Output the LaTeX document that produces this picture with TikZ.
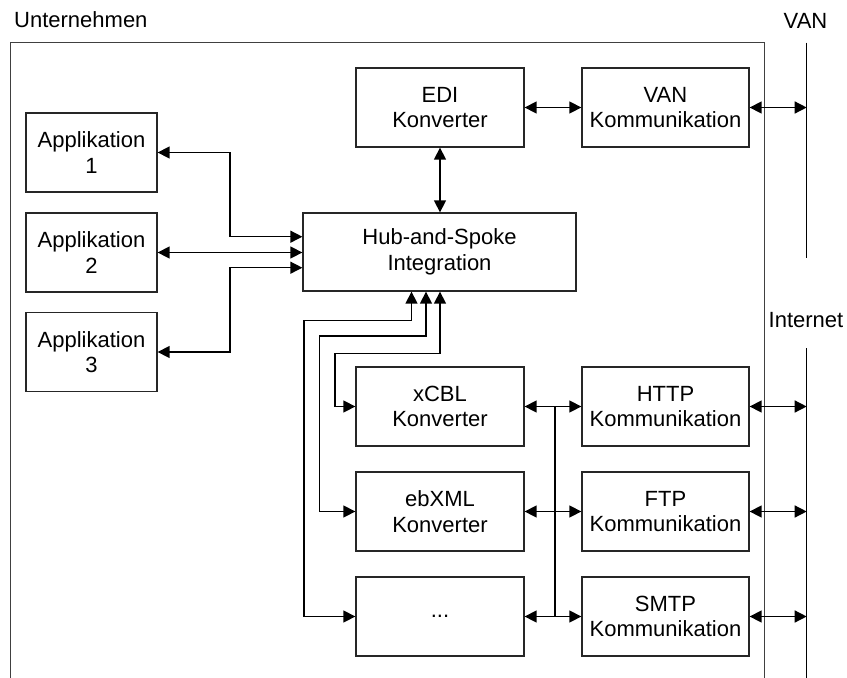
\documentclass[tikz,border=0pt]{standalone}
\usepackage{fontspec}
\setmainfont{Liberation Sans}
\usetikzlibrary{arrows.meta,calc}
\begin{document}
\begin{tikzpicture}[x=1pt,y=-1pt,
  every node/.style={font=\fontsize{22}{25.5}\selectfont},
  box/.style={draw=black!85,line width=1.3pt,minimum width=168pt,minimum height=79pt,align=center,inner sep=0pt},
  appbox/.style={box,minimum width=131pt},
  conn/.style={line width=1.4pt,draw=black,{Triangle[length=12pt,width=12pt]}-{Triangle[length=12pt,width=12pt]}},
  plain/.style={line width=1.4pt,draw=black},
  frame/.style={line width=1.1pt,draw=black!75}]
\useasboundingbox (0,0) rectangle (847,678);
% labels
\node[anchor=west,inner sep=0pt] (lu) at (14,20) {Unternehmen};
\node[inner sep=0pt] (lvan) at (805.5,21) {VAN};
\node[inner sep=0pt] (linet) at (806,320) {Internet};
% enclosure and network lines
\draw[frame] (10.5,678) -- (10.5,42.7) -- (764.5,42.7) -- (764.5,678);
\coordinate (vtop) at (806.7,42.7);
\coordinate (vbot) at (806.7,258);
\coordinate (itop) at (806.7,348);
\coordinate (ibot) at (806.7,678);
\draw[plain] (vtop) -- (vbot);
\draw[plain] (itop) -- (ibot);
% boxes
\node[appbox] (a1) at (91.5,152.5) {Applikation\\1};
\node[appbox] (a2) at (91.5,252.5) {Applikation\\2};
\node[appbox] (a3) at (91.5,352) {Applikation\\3};
\node[box] (edi) at (440,107.5) {EDI\\Konverter};
\node[box,minimum width=167pt] (vank) at (665.5,107.5) {VAN\\Kommunikation};
\node[box,minimum width=273pt,minimum height=78pt] (hub) at (439.5,252) {Hub-and-Spoke\\Integration};
\node[box] (xcbl) at (440,406.5) {xCBL\\Konverter};
\node[box] (ebxml) at (440,511.5) {ebXML\\Konverter};
\node[box] (dots) at (440,616.5) {...};
\node[box,minimum width=167pt] (http) at (665.5,406.5) {HTTP\\Kommunikation};
\node[box,minimum width=167pt] (ftp) at (665.5,511.5) {FTP\\Kommunikation};
\node[box,minimum width=167pt] (smtp) at (665.5,616.5) {SMTP\\Kommunikation};
% top connectors
\draw[conn] (edi.east) -- (vank.west);
\draw[conn] (vank.east) -- (vank.east -| vtop);
\draw[conn] (edi.south) -- (edi.south |- hub.north);
% left connectors
\draw[conn] (a1.east) -| (230,236.7) -- ([yshift=15.3pt]hub.west);
\draw[conn] (a2.east) -- (a2.east -| hub.west);
\draw[conn] (a3.east) -| (230,267.7) -- ([yshift=-15.7pt]hub.west);
% hub to lower converters
\draw[conn] (dots.west) -| (304,320.7) -| ([xshift=-28pt]hub.south);
\draw[conn] (ebxml.west) -| (319.5,336) -| ([xshift=-13.5pt]hub.south);
\draw[conn] (xcbl.west) -| (335,353.3) -| ([xshift=0.5pt]hub.south);
% converters to communication
\draw[conn] (xcbl.east) -- (http.west);
\draw[conn] (ebxml.east) -- (ftp.west);
\draw[conn] (dots.east) -- (smtp.west);
\draw[plain] (555,406.5) -- (555,616.5);
% communication to internet
\draw[conn] (http.east) -- (http.east -| itop);
\draw[conn] (ftp.east) -- (ftp.east -| itop);
\draw[conn] (smtp.east) -- (smtp.east -| itop);
\end{tikzpicture}
\end{document}
